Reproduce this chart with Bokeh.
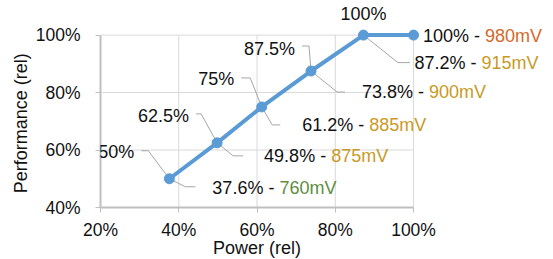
from bokeh.plotting import figure
from bokeh.models import Range1d, FixedTicker, PrintfTickFormatter, ColumnDataSource, LabelSet, Title
from bokeh.core.properties import value
from bokeh.embed import file_html
from bokeh.resources import INLINE

# ---- data ----
power = [37.6, 49.8, 61.2, 73.8, 87.2, 100.0]
performance = [50.0, 62.5, 75.0, 87.5, 100.0, 100.0]
voltage_mv = [760, 875, 885, 900, 915, 980]
perf_labels = ["50%", "62.5%", "75%", "87.5%", "100%", ""]
x_ticks = [20, 40, 60, 80, 100]
y_ticks = [40, 60, 80, 100]
x_title = "Power (rel)"
y_title = "Performance (rel)"

# ---- styles / layout ----
FONT = "Liberation Sans"
BLUE = "#5B9BD5"
TXT = "#111111"
LEADER = "#A6A6A6"
GRID = "#D9D9D9"
volt_colors = ["#5E8E3E", "#C99A1F", "#C99A1F", "#C99A1F", "#C99A1F", "#D5682A"]

W, H = 553, 259
BL, BR, BT, BB = 100, 3, 3, 52
X0, X1, Y0, Y1 = 20, 100, 40, 100
XMAX, YMAX = 135, 111      # frame extends beyond the axes so labels are not clipped
FW, FH = W - BL - BR, H - BT - BB
kx = FW / (XMAX - X0)   # px per x unit
ky = FH / (YMAX - Y0)   # px per y unit

# label offsets in screen px (dx right, dy down) relative to the point
ylab_dx = [-35, -28, -27.5, -16, 0, 0]
ylab_dy = [-27, -27, -28, -22, -21, 0]
yl_a = [-28, -21, -20.5, -9, None, None]
yl_b = [-21, -16, -11.5, -2, None, None]
yl_dy = [-28, -29, -29, -25, None, None]

xlab_dx = [43, 47, 40.5, 51, 51, 9.5]
xlab_dy = [9, 13, 18, 21, 27.5, 1]
xl_a = [16, 16, 10.5, 26, 34.5, None]
xl_b = [26, 26, 18.5, 34, 46.5, None]
xl_dy = [8, 13, 18, 21, 27.5, None]

FS = 18
widths = {c: 0.556 for c in "0123456789"}
widths.update({".": 0.278, "%": 0.889, " ": 0.278, "-": 0.333})
def text_w(s):
    return sum(widths[c] for c in s) * FS

p = figure(width=W, height=H, x_range=Range1d(X0, XMAX), y_range=Range1d(Y0, YMAX),
           output_backend="svg", toolbar_location=None,
           min_border_left=BL, min_border_right=BR, min_border_top=BT, min_border_bottom=BB)
p.outline_line_color = None
p.background_fill_color = "white"
p.border_fill_color = "white"
p.grid.visible = False

for ax in (p.xaxis[0], p.yaxis[0]):
    ax.axis_line_color = "#BFBFBF"
    ax.axis_line_width = 2
    ax.major_tick_line_color = "#BFBFBF"
    ax.major_tick_line_width = 1
    ax.major_tick_out = 5
    ax.major_tick_in = 0
    ax.minor_tick_line_color = None
    ax.major_label_text_font = FONT
    ax.major_label_text_font_size = "17.5px"
    ax.major_label_text_color = TXT
    ax.formatter = PrintfTickFormatter(format="%d%%")

p.xaxis.ticker = FixedTicker(ticks=x_ticks)
p.yaxis.ticker = FixedTicker(ticks=y_ticks)
p.xaxis.bounds = (X0, X1)
p.yaxis.bounds = (Y0, Y1)
p.xaxis.major_label_standoff = 7
p.yaxis.major_label_standoff = 15

# axis titles as side-panel titles, placed at the centre of the axis span
x_mid_px = ((X0 + X1) / 2 - X0) * kx
y_mid_px = ((Y0 + Y1) / 2 - Y0) * ky
x_title_w = 4.889 * 18
y_title_w = 7.779 * 18
p.add_layout(Title(text=x_title, align="left", offset=x_mid_px - x_title_w / 2, standoff=-13,
                   text_font=FONT, text_font_size="18px", text_font_style="normal",
                   text_color=TXT), "below")
p.add_layout(Title(text=y_title, align="left", offset=y_mid_px - y_title_w / 2 - 2, standoff=4,
                   text_font=FONT, text_font_size="18px", text_font_style="normal",
                   text_color=TXT), "left")

# grid lines drawn from the tick lists
p.segment(x0=x_ticks, y0=[Y0] * len(x_ticks), x1=x_ticks, y1=[Y1] * len(x_ticks),
          line_color=GRID, line_width=1, level="underlay")
p.segment(x0=[X0] * len(y_ticks), y0=y_ticks, x1=[X1] * len(y_ticks), y1=y_ticks,
          line_color=GRID, line_width=1, level="underlay")

# leader lines
lx, ly = [], []
for i in range(len(power)):
    px, py = power[i], performance[i]
    if yl_a[i] is not None:
        lx.append([px + yl_a[i] / kx, px + yl_b[i] / kx, px])
        ly.append([py - yl_dy[i] / ky, py - yl_dy[i] / ky, py])
    if xl_a[i] is not None:
        lx.append([px, px + xl_a[i] / kx, px + xl_b[i] / kx])
        ly.append([py, py - xl_dy[i] / ky, py - xl_dy[i] / ky])
p.multi_line(lx, ly, line_color=LEADER, line_width=1)

src = ColumnDataSource(dict(x=power, y=performance))
p.line("x", "y", source=src, line_color=BLUE, line_width=4)
p.scatter("x", "y", source=src, size=10, fill_color=BLUE, line_color=BLUE)

def add_labels(source, text, xo, yo, align, color=TXT):
    ls = LabelSet(x="x", y="y", text=text, x_offset=xo, y_offset=yo, source=source,
                  text_align=align, text_baseline="middle", text_font=value(FONT),
                  text_font_size=f"{FS}px", text_color=color)
    p.add_layout(ls)

# performance labels (LabelSet y_offset is positive upward)
idx_r = [0, 1, 2, 3]
idx_c = [4]
ysrc_r = ColumnDataSource(dict(x=[power[i] for i in idx_r], y=[performance[i] for i in idx_r],
                               t=[perf_labels[i] for i in idx_r],
                               dx=[ylab_dx[i] for i in idx_r], dy=[-ylab_dy[i] for i in idx_r]))
ysrc_c = ColumnDataSource(dict(x=[power[i] for i in idx_c], y=[performance[i] for i in idx_c],
                               t=[perf_labels[i] for i in idx_c],
                               dx=[ylab_dx[i] for i in idx_c], dy=[-ylab_dy[i] for i in idx_c]))
add_labels(ysrc_r, "t", "dx", "dy", "right")
add_labels(ysrc_c, "t", "dx", "dy", "center")

# power - voltage labels
prefix = [f"{v:g}% - " for v in power]
vtxt = [f"{v}mV" for v in voltage_mv]
vdx = [xlab_dx[i] + text_w(prefix[i]) for i in range(len(power))]
xsrc = ColumnDataSource(dict(x=power, y=performance, t=prefix, v=vtxt,
                             dx=xlab_dx, vdx=vdx, dy=[-d for d in xlab_dy], c=volt_colors))
add_labels(xsrc, "t", "dx", "dy", "left")
add_labels(xsrc, "v", "vdx", "dy", "left", color="c")

open("out.html", "w").write(file_html(p, INLINE))
